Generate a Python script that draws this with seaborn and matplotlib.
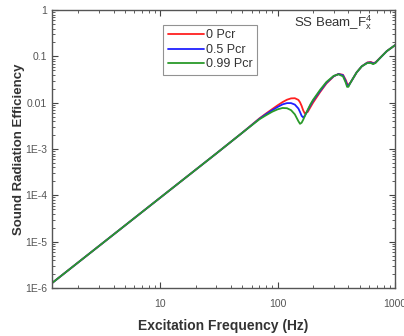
import numpy as np
import pandas as pd
import matplotlib
matplotlib.use("Agg")
import matplotlib.pyplot as plt
import seaborn as sns
from matplotlib.ticker import LogLocator, FixedLocator, FixedFormatter, NullFormatter

freq = [1.2, 10, 30, 50, 70, 80, 90, 100, 110, 120, 130, 140, 150, 155, 160, 165, 170,
        180, 190, 200, 230, 260, 300, 330, 360, 380, 390, 400, 420, 470, 520, 580, 620,
        650, 680, 750, 850, 1000]

red_0 = [1.28e-6, 8.9e-5, 8.0e-4, 2.25e-3, 4.6e-3, 5.9e-3, 7.3e-3, 8.8e-3, 1.03e-2, 1.16e-2,
         1.24e-2, 1.25e-2, 1.15e-2, 1.02e-2, 8.5e-3, 6.8e-3, 5.9e-3, 6.3e-3, 8.0e-3, 1.0e-2,
         1.7e-2, 2.6e-2, 3.7e-2, 4.2e-2, 4.0e-2, 3.1e-2, 2.6e-2, 2.4e-2, 2.8e-2, 4.5e-2,
         6.1e-2, 7.4e-2, 7.6e-2, 7.2e-2, 7.4e-2, 9.5e-2, 1.3e-1, 1.75e-1]

blue_05 = [1.28e-6, 8.9e-5, 8.0e-4, 2.25e-3, 4.5e-3, 5.7e-3, 6.9e-3, 8.1e-3, 9.2e-3, 9.8e-3,
           9.8e-3, 9.1e-3, 7.5e-3, 6.3e-3, 5.2e-3, 4.8e-3, 5.2e-3, 6.8e-3, 8.8e-3, 1.1e-2,
           1.8e-2, 2.7e-2, 3.75e-2, 4.15e-2, 3.9e-2, 2.9e-2, 2.4e-2, 2.3e-2, 2.8e-2, 4.5e-2,
           6.1e-2, 7.3e-2, 7.4e-2, 7.0e-2, 7.3e-2, 9.4e-2, 1.3e-1, 1.75e-1]

green_099 = [1.28e-6, 8.9e-5, 8.0e-4, 2.25e-3, 4.4e-3, 5.4e-3, 6.4e-3, 7.2e-3, 7.7e-3, 7.6e-3,
             6.9e-3, 5.6e-3, 4.0e-3, 3.5e-3, 3.7e-3, 4.3e-3, 5.1e-3, 7.0e-3, 9.2e-3, 1.15e-2,
             1.9e-2, 2.8e-2, 3.8e-2, 4.1e-2, 3.7e-2, 2.7e-2, 2.2e-2, 2.2e-2, 2.8e-2, 4.5e-2,
             6.1e-2, 7.2e-2, 7.2e-2, 6.8e-2, 7.2e-2, 9.4e-2, 1.3e-1, 1.75e-1]

series_names = ["0 Pcr", "0.5 Pcr", "0.99 Pcr"]
y_ticks = [1e-6, 1e-5, 1e-4, 1e-3, 1e-2, 1e-1, 1]
y_labels = ["1E-6", "1E-5", "1E-4", "1E-3", "0.01", "0.1", "1"]
x_ticks = [10, 100, 1000]
x_labels = ["10", "100", "1000"]

df = pd.DataFrame({
    "freq": freq * 3,
    "eff": red_0 + blue_05 + green_099,
    "case": [series_names[0]] * len(freq) + [series_names[1]] * len(freq) + [series_names[2]] * len(freq),
})

sns.set_style("ticks")
plt.rcParams["font.family"] = ["Liberation Sans", "DejaVu Sans"]
plt.rcParams["mathtext.fontset"] = "custom"
plt.rcParams["mathtext.rm"] = "Liberation Sans"
plt.rcParams["mathtext.it"] = "Liberation Sans"

fig = plt.figure(figsize=(4.04, 3.36), dpi=100)
ax = fig.add_axes([0.129, 0.143, 0.849, 0.827])

palette = {"0 Pcr": "#ff2020", "0.5 Pcr": "#2020ff", "0.99 Pcr": "#2a9a2a"}
sns.lineplot(data=df, x="freq", y="eff", hue="case", palette=palette, ax=ax,
             linewidth=1.3, sort=False, estimator=None)

ax.set_xscale("log")
ax.set_yscale("log")
ax.set_xlim(1.2, 1000)
ax.set_ylim(1e-6, 1)

ax.xaxis.set_major_locator(FixedLocator(x_ticks))
ax.xaxis.set_major_formatter(FixedFormatter(x_labels))
ax.xaxis.set_minor_locator(LogLocator(base=10, subs=np.arange(2, 10)))
ax.xaxis.set_minor_formatter(NullFormatter())
ax.yaxis.set_major_locator(FixedLocator(y_ticks))
ax.yaxis.set_major_formatter(FixedFormatter(y_labels))
ax.yaxis.set_minor_locator(LogLocator(base=10, subs=np.arange(2, 10)))
ax.yaxis.set_minor_formatter(NullFormatter())

ax.tick_params(which="both", direction="in", top=True, right=True, colors="#444444",
               labelsize=7.5, labelcolor="#555555")
ax.tick_params(which="major", length=4, width=0.8)
ax.tick_params(which="minor", length=2, width=0.6)
ax.tick_params(axis="x", which="major", pad=8)
for s in ax.spines.values():
    s.set_color("#555555")
    s.set_linewidth(1.0)

ax.set_xlabel("Excitation Frequency (Hz)", fontsize=10, fontweight="bold", color="#333333", labelpad=7)
ax.set_ylabel("Sound Radiation Efficiency", fontsize=9.5, fontweight="bold", color="#333333", labelpad=0)

leg = ax.legend(loc="upper left", bbox_to_anchor=(0.324, 0.946), frameon=True, fancybox=False,
                fontsize=9, handlelength=2.9, handletextpad=0.2, borderpad=0.35,
                labelspacing=0.2, borderaxespad=0)
leg.get_frame().set_edgecolor("#777777")
leg.get_frame().set_linewidth(0.8)
for t in leg.get_texts():
    t.set_color("#333333")

ax.text(0.935, 0.953, r"SS Beam_$\mathrm{F}_\mathrm{x}^\mathrm{4}$", transform=ax.transAxes,
        ha="right", va="center", fontsize=9.5, color="#333333")

fig.savefig("out.png", dpi=100)
